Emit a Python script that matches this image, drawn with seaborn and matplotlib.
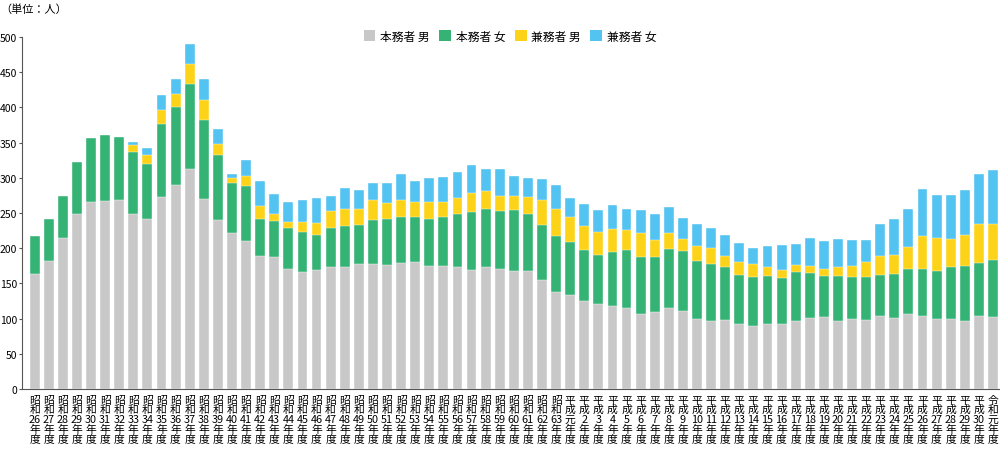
import matplotlib
matplotlib.use("Agg")
import matplotlib.pyplot as plt
import seaborn as sns
import pandas as pd
import numpy as np
from matplotlib.patches import Patch

years = ([f"昭\n和\n{n}\n年\n度" for n in range(26, 64)]
         + ["平\n成\n元\n年\n度"]
         + [f"平\n成\n{n}\n年\n度" for n in range(2, 31)]
         + ["令\n和\n元\n年\n度"])

honmu_male = [163, 182, 214, 249, 265, 267, 269, 248, 242, 273, 290, 312, 270, 240, 221, 210,
              189, 188, 171, 166, 169, 173, 174, 177, 177, 176, 179, 180, 175, 175, 173, 169,
              173, 170, 168, 168, 155, 138,
              133, 125, 121, 118, 115, 106, 109, 115, 111, 99, 96, 98, 92, 90, 93, 92, 97,
              101, 102, 97, 99, 98, 103, 101, 106, 104, 100, 100, 96, 103,
              102]
honmu_female = [54, 60, 60, 74, 92, 94, 89, 89, 78, 103, 111, 121, 112, 93, 71, 78,
                52, 51, 57, 57, 50, 56, 57, 56, 63, 66, 65, 65, 67, 69, 75, 82,
                82, 83, 86, 81, 78, 79,
                76, 73, 70, 76, 82, 81, 78, 84, 85, 83, 82, 76, 70, 69, 68, 66, 69,
                64, 59, 64, 60, 61, 59, 63, 65, 66, 68, 73, 79, 76,
                81]
kenmu_male = [0, 0, 0, 0, 0, 0, 0, 9, 12, 21, 18, 29, 29, 15, 8, 14,
              19, 9, 9, 14, 17, 24, 24, 23, 28, 22, 24, 20, 23, 21, 23, 28,
              26, 21, 20, 24, 35, 38,
              35, 34, 32, 33, 29, 34, 25, 23, 17, 21, 22, 15, 18, 18, 12, 11, 10,
              10, 10, 12, 16, 22, 27, 26, 30, 48, 47, 40, 44, 55,
              52]
kenmu_female = [0, 0, 0, 0, 0, 0, 0, 5, 10, 21, 22, 28, 29, 21, 5, 23,
                35, 29, 29, 32, 36, 21, 30, 27, 24, 29, 38, 31, 35, 36, 37, 39,
                31, 38, 29, 27, 31, 35,
                28, 31, 31, 34, 29, 33, 37, 36, 30, 32, 28, 30, 27, 23, 30, 35, 30,
                39, 39, 40, 37, 30, 46, 51, 54, 66, 61, 62, 63, 71,
                76]

series_names = ["本務者 男", "本務者 女", "兼務者 男", "兼務者 女"]
colors = ["#c8c8c8", "#34b374", "#fdd319", "#53c3f1"]

df = pd.DataFrame({"year": years, "hm": honmu_male, "hf": honmu_female,
                   "km": kenmu_male, "kf": kenmu_female})
c1 = df["hm"]
c2 = c1 + df["hf"]
c3 = c2 + df["km"]
c4 = c3 + df["kf"]
cums = [c1, c2, c3, c4]

plt.rcParams["font.family"] = ["Noto Sans CJK JP", "DejaVu Sans"]

fig = plt.figure(figsize=(10, 4.52), dpi=100)
ax = fig.add_axes([0.022, 1 - 390 / 452, 0.978, (390 - 38) / 452])

for cum, col in zip(reversed(cums), reversed(colors)):
    sns.barplot(x=df["year"], y=cum, color=col, width=0.7, ax=ax,
                edgecolor="white", linewidth=0.3, saturation=1, errorbar=None)

ax.set_xlim(-0.9, 68.5)
ax.set_ylim(0, 500)
ax.set_yticks(np.arange(0, 501, 50))
ax.set_xlabel("")
ax.set_ylabel("")
for s in ["top", "right"]:
    ax.spines[s].set_visible(False)
ax.spines["left"].set_color("#555555")
ax.spines["bottom"].set_color("#555555")
ax.spines["left"].set_linewidth(0.8)
ax.spines["bottom"].set_linewidth(0.8)
ax.tick_params(axis="y", length=2.5, width=0.8, color="#555555", labelsize=7.5, pad=1)
ax.tick_params(axis="x", length=0, labelsize=7.8, pad=4)
for lab in ax.get_xticklabels():
    lab.set_linespacing(0.95)
    lab.set_verticalalignment("top")

handles = [Patch(facecolor=c, edgecolor="none") for c in colors]
fig.legend(handles, series_names, loc="center", bbox_to_anchor=(0.51, 1 - 37 / 452),
           ncol=4, frameon=False, fontsize=8.5, handlelength=1.0, handleheight=1.0,
           handletextpad=0.4, columnspacing=0.8)

fig.text(0.0, 1 - 10 / 452, "（単位：人）", fontsize=8, va="center", ha="left")

fig.savefig("out.png", dpi=100)
